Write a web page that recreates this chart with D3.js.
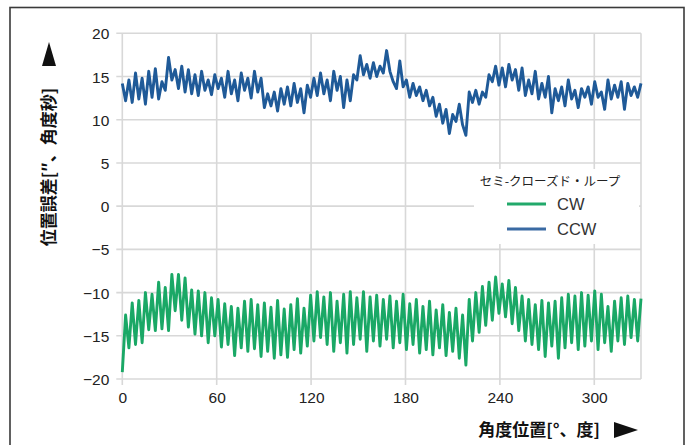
<!DOCTYPE html>
<html>
<head>
<meta charset="utf-8">
<script src="https://cdn.jsdelivr.net/npm/d3@7"></script>
<style>
  html, body { margin: 0; padding: 0; background: #fff; }
  svg { display: block; }
</style>
</head>
<body>
<svg id="chart" width="694" height="445"></svg>
<script>
// ---------- DATA ----------
const angleStep = 2.1; // degrees between samples
const xTicks = [0, 60, 120, 180, 240, 300];
const yTicks = [-20, -15, -10, -5, 0, 5, 10, 15, 20];
const seriesNames = ["CW", "CCW"];
const legendTitle = "セミ-クローズド・ループ";
const xTitle = "角度位置[°、度]";
const yTitle = "位置誤差[″、角度秒]";

const cwValues = [
  -19.2,
  -12.6,-16.4, -11.2,-16.0, -10.9,-15.8, -10.0,-14.3, -10.2,-14.4,
  -8.8,-14.2, -9.4,-14.4, -7.9,-12.1, -7.9,-13.2, -8.3,-14.0,
  -9.7,-14.8, -9.8,-15.0, -10.0,-15.8, -10.6,-15.0, -10.8,-16.3,
  -11.3,-16.0, -11.6,-17.3, -11.8,-16.4, -11.0,-16.8, -10.8,-16.5,
  -11.4,-17.4, -11.2,-16.8, -11.7,-17.6, -10.9,-17.2, -11.9,-17.5,
  -11.4,-16.6, -10.7,-17.0, -11.8,-16.2, -10.3,-15.6, -9.9,-15.2,
  -10.5,-16.0, -10.0,-16.8, -11.0,-15.8, -10.2,-17.0, -9.9,-16.0,
  -10.6,-15.4, -9.9,-16.8, -10.5,-15.6, -10.3,-16.2, -10.8,-15.4,
  -10.4,-16.4, -11.0,-15.8, -10.2,-16.6, -11.3,-16.0, -10.8,-17.0,
  -11.6,-16.6, -11.0,-17.2, -12.0,-16.4, -11.4,-17.3, -12.3,-16.8,
  -11.8,-17.6, -12.6,-18.4, -10.8,-15.6, -10.0,-14.6, -9.3,-13.8,
  -8.8,-13.2, -8.2,-12.4, -9.0,-12.8, -8.6,-13.6, -9.4,-14.4,
  -10.4,-15.6, -10.8,-16.0, -11.4,-16.6, -10.9,-17.4, -11.2,-16.2,
  -11.0,-17.6, -10.6,-16.4, -10.2,-15.8, -10.4,-16.6, -10.0,-16.2,
  -10.3,-15.6, -9.8,-16.6, -10.2,-15.8, -11.6,-16.8, -11.0,-15.6,
  -10.6,-16.0, -10.4,-15.2, -10.8,-15.6, -10.7
];

const ccwValues = [
  14.2, 12.2, 14.6, 12.0, 15.4, 12.4, 14.8, 11.8, 15.6, 12.6,
  15.9, 12.4, 14.4, 13.4, 17.2, 14.6, 15.8, 13.6, 16.2, 13.2,
  15.8, 13.0, 15.2, 12.8, 15.6, 13.4, 14.6, 12.9, 15.2, 13.6,
  14.8, 12.6, 15.6, 13.0, 14.6, 12.2, 15.4, 13.4, 14.8, 12.5,
  15.6, 13.2, 14.8, 11.4, 13.0, 11.6, 13.2, 11.0, 13.6, 11.8,
  13.8, 11.6, 14.2, 12.0, 13.6, 10.8, 14.0, 12.6, 14.8, 12.8,
  15.4, 13.0, 14.6, 12.2, 15.6, 13.4, 15.0, 11.4, 14.6, 12.2,
  15.2, 14.6, 17.4, 15.2, 16.4, 14.8, 16.6, 15.0, 16.2, 15.4,
  18.0, 15.6, 14.4, 13.6, 16.8, 13.8, 14.6, 12.6, 14.2, 12.8,
  13.8, 12.2, 13.4, 11.6, 12.6, 10.4, 11.8, 9.6, 11.2, 8.4,
  10.6, 9.8, 11.8, 9.4, 8.2, 13.2, 12.0, 13.4, 11.8, 13.2,
  12.6, 15.2, 14.4, 16.2, 14.0, 16.0, 13.8, 16.4, 14.6, 15.8,
  13.4, 16.0, 12.8, 14.6, 13.0, 15.6, 12.4, 14.2, 12.6, 15.0,
  10.8, 13.6, 12.2, 13.8, 11.6, 14.6, 12.4, 13.4, 11.4, 13.6,
  12.6, 13.8, 11.8, 14.4, 12.6, 13.2, 11.2, 14.6, 12.4, 14.0,
  12.6, 14.4, 11.2, 14.2, 12.8, 13.8, 12.6, 14.2
];

// ---------- LAYOUT ----------
const svg = d3.select("#chart");
const plot = { left: 122.3, right: 641, top: 33.3, bottom: 379 };
const colors = { CW: "#1aa866", CCW: "#1f5a98" };
const legendColors = { CW: "#22a96b", CCW: "#3a6aa3" };
const latin = "'Liberation Sans', Arial, Helvetica, sans-serif";
const cjk = "'Noto Sans CJK JP', 'Noto Sans', sans-serif";

// outer frame
svg.append("rect")
  .attr("x", 10).attr("y", 7.5)
  .attr("width", 674).attr("height", 445)
  .attr("fill", "none").attr("stroke", "#3a3a3a").attr("stroke-width", 1.6);

const xMax = angleStep * (cwValues.length - 1);
const x = d3.scaleLinear().domain([0, xMax]).range([plot.left, plot.right]);
const y = d3.scaleLinear().domain([-20, 20]).range([plot.bottom, plot.top]);

// grid
const grid = svg.append("g");
grid.selectAll("line.h").data(yTicks).join("line")
  .attr("x1", plot.left - 6).attr("x2", plot.right)
  .attr("y1", d => y(d)).attr("y2", d => y(d))
  .attr("stroke", "#d8d8d8").attr("stroke-width", 1.6);
grid.selectAll("line.v").data(xTicks).join("line")
  .attr("x1", d => x(d)).attr("x2", d => x(d))
  .attr("y1", plot.top).attr("y2", plot.bottom + 6)
  .attr("stroke", "#d8d8d8").attr("stroke-width", 1.6);
grid.append("line")
  .attr("x1", plot.right).attr("x2", plot.right)
  .attr("y1", plot.top).attr("y2", plot.bottom)
  .attr("stroke", "#d8d8d8").attr("stroke-width", 1.6);

// axes labels via d3 axes
const yAxis = d3.axisLeft(y).tickValues(yTicks).tickSize(0).tickPadding(0);
const gy = svg.append("g").attr("transform", `translate(${plot.left - 13},0)`).call(yAxis);
gy.select(".domain").remove();
gy.selectAll("text").attr("font-family", latin).attr("font-size", 15.5)
  .attr("fill", "#222").attr("dy", "0.36em");

const xAxis = d3.axisBottom(x).tickValues(xTicks).tickSize(0).tickPadding(0);
const gx = svg.append("g").attr("transform", `translate(0,${plot.bottom + 9})`).call(xAxis);
gx.select(".domain").remove();
gx.selectAll("text").attr("font-family", latin).attr("font-size", 15.5)
  .attr("fill", "#222").attr("dy", "0.95em");

// lines
const line = d3.line().x((d, i) => x(i * angleStep)).y(d => y(d));
svg.append("path").datum(cwValues)
  .attr("d", line).attr("fill", "none")
  .attr("stroke", colors.CW).attr("stroke-width", 2.9).attr("stroke-linejoin", "round");
svg.append("path").datum(ccwValues)
  .attr("d", line).attr("fill", "none")
  .attr("stroke", colors.CCW).attr("stroke-width", 2.9).attr("stroke-linejoin", "round");

// legend
const lg = svg.append("g");
lg.append("rect").attr("x", 474).attr("y", 169).attr("width", 165).attr("height", 75)
  .attr("fill", "#fff");
lg.append("text").attr("x", 550).attr("y", 186).attr("text-anchor", "middle")
  .attr("font-family", cjk).attr("font-size", 12.5).attr("fill", "#222")
  .text(legendTitle);
seriesNames.forEach((name, i) => {
  const yy = 204 + i * 25;
  lg.append("line").attr("x1", 507).attr("x2", 546).attr("y1", yy).attr("y2", yy)
    .attr("stroke", legendColors[name]).attr("stroke-width", 3);
  lg.append("text").attr("x", 557).attr("y", yy).attr("dy", "0.36em")
    .attr("font-family", latin).attr("font-size", 16.5).attr("fill", "#333")
    .text(name);
});

// x title + arrow
svg.append("text").attr("x", 600).attr("y", 436).attr("text-anchor", "end")
  .attr("font-family", cjk).attr("font-weight", "bold").attr("font-size", 17)
  .attr("fill", "#111").text(xTitle);
svg.append("path").attr("d", "M614,422 L614,438 L638,430 Z").attr("fill", "#111");

// y title + arrow
svg.append("text")
  .attr("transform", "translate(55,167) rotate(-90)")
  .attr("text-anchor", "middle")
  .attr("font-family", cjk).attr("font-weight", "bold").attr("font-size", 17)
  .attr("fill", "#111").text(yTitle);
svg.append("path").attr("d", "M42,66 L56,66 L49,42 Z").attr("fill", "#111");
</script>
</body>
</html>
